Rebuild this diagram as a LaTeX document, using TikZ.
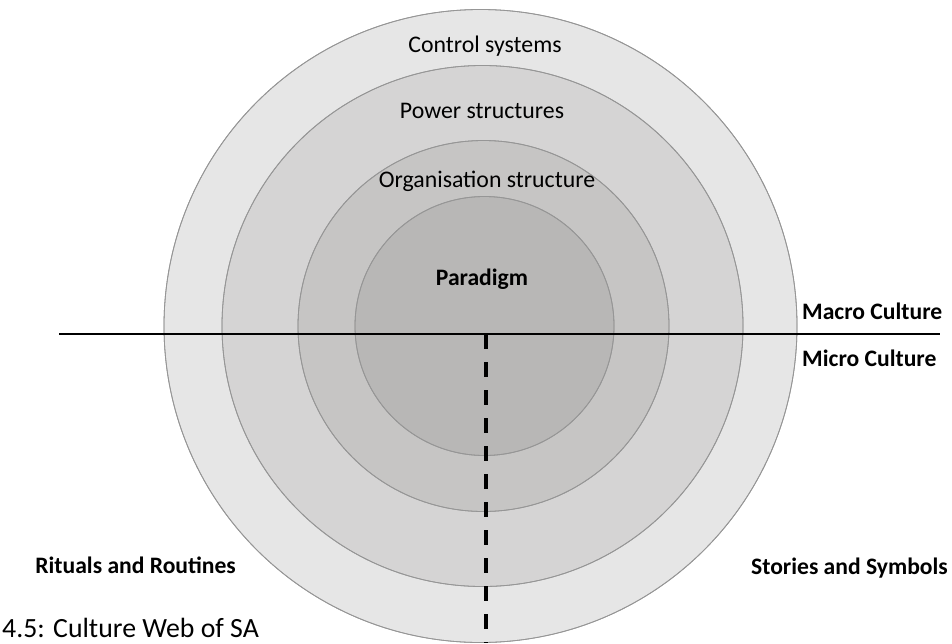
\documentclass[tikz,border=0pt]{standalone}
\usepackage{fontspec}
\setmainfont{Carlito}
\usepackage{xcolor}
\usetikzlibrary{positioning, calc}
\definecolor{ringA}{RGB}{230,230,230}
\definecolor{ringB}{RGB}{213,212,212}
\definecolor{ringC}{RGB}{198,197,196}
\definecolor{ringD}{RGB}{184,183,182}
\definecolor{ringLine}{RGB}{150,150,150}
\tikzstyle{Ring} = [
draw=ringLine,
line width=0.8pt]
\tikzstyle{Label} = [
inner sep=0pt,
font=\fontsize{23.8}{27}\selectfont]
\tikzstyle{Bold} = [
Label,
font=\fontsize{23.6}{27}\selectfont\bfseries]

\begin{document}
\begin{tikzpicture}[x=1pt, y=-1pt]
    \useasboundingbox (0,0) rectangle (952,643);

    \fill[Ring, fill=ringA] (480.5,326) circle[radius=316.5pt];
    \fill[Ring, fill=ringB] (482.5,326) circle[radius=260.5pt];
    \fill[Ring, fill=ringC] (483.5,326) circle[radius=185.5pt];
    \fill[Ring, fill=ringD] (484.5,326) circle[radius=129.5pt];
    \draw[Ring] (480.5,326) circle[radius=316.5pt];
    \draw[Ring] (482.5,326) circle[radius=260.5pt];
    \draw[Ring] (483.5,326) circle[radius=185.5pt];
    \draw[Ring] (484.5,326) circle[radius=129.5pt];

    \coordinate (west) at (59,334);
    \coordinate (east) at (940,334);
    \coordinate (mid) at (486,334);
    \coordinate (foot) at (486,643);

    \node[Label] (control) at (485,46) {Control systems};
    \node[Label] (power) at (482,111) {Power structures};
    \node[Label] (org) at (487,181) {Organisation structure};
    \node[Bold] (paradigm) at (482,279) {Paradigm};
    \node[Bold, anchor=west] (macro) at (802,311) {Macro Culture};
    \node[Bold, anchor=west] (micro) at (802,358) {Micro Culture};
    \node[Bold, anchor=east] (rituals) at (236,565) {Rituals and Routines};
    \node[Bold, anchor=east] (stories) at (948,568) {Stories and Symbols};
    \node[Label, anchor=west, font=\fontsize{27.8}{32}\selectfont] (caption) at (2,628) {4.5: Culture Web of SA};

    \draw[line width=2.6pt] (west) -- (east);
    \draw[line width=3.5pt, dash pattern=on 15pt off 13pt] (mid) -- (foot);
\end{tikzpicture}
\end{document}
